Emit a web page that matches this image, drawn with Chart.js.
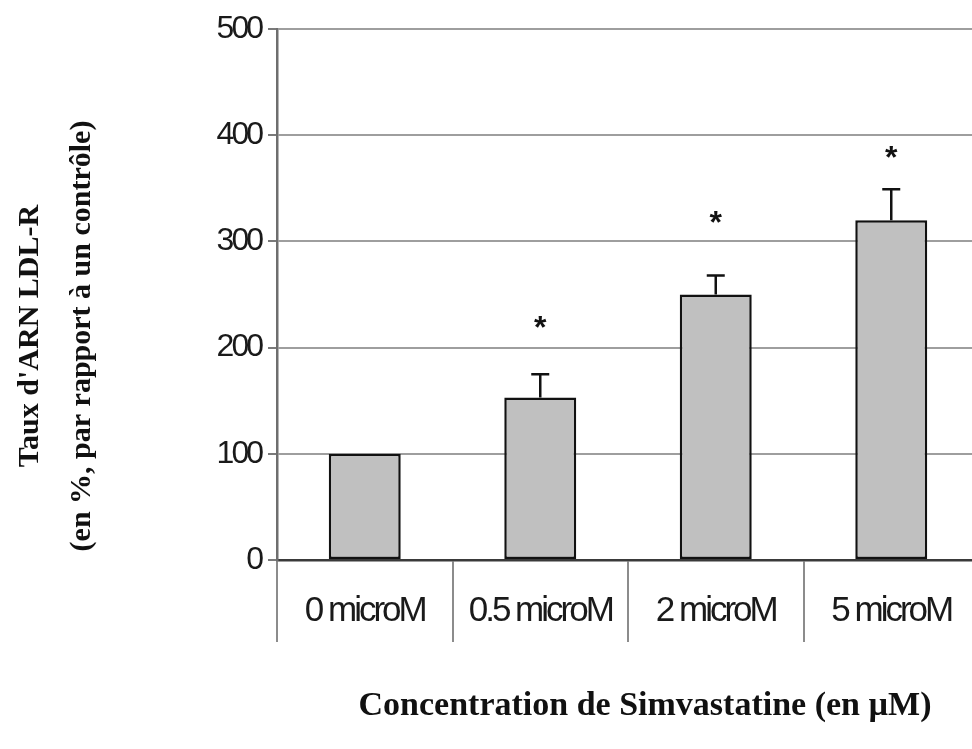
<!DOCTYPE html>
<html>
<head>
<meta charset="utf-8">
<script src="https://cdn.jsdelivr.net/npm/chart.js@4.4.1/dist/chart.umd.min.js"></script>
<style>
  html, body { margin: 0; padding: 0; background: #fff; overflow: hidden; }
  #wrap { position: relative; width: 980px; height: 749px; }
</style>
</head>
<body>
<div id="wrap"><canvas id="myChart"></canvas></div>
<script>
// taux d'ARN du LDL-R selon la dose de simvastatine
var categories = ['0 microM', '0.5 microM', '2 microM', '5 microM'];
var valeurs = [100, 153, 250, 320];
var erreurs = [0, 22, 18, 29];
var etoiles = ['', '*', '*', '*'];
var niveauEtoiles = [null, 226, 325, 386];
var graduations = [0, 100, 200, 300, 400, 500];

var titreY = ["Taux d'ARN LDL-R", "(en %, par rapport à un contrôle)"];
var titreX = 'Concentration de Simvastatine (en µM)';

var policeAxe = "'Liberation Sans', Arial, sans-serif";
var policeTitre = "'Liberation Serif', 'Times New Roman', serif";

// texte des graduations un peu resserré
var serrePlugin = {
  id: 'serre',
  beforeDraw: function (chart) {
    chart.ctx.letterSpacing = '-3px';
  }
};

// barres d'erreur (vers le haut seulement) + étoiles de significativité
var erreursPlugin = {
  id: 'erreurs',
  afterDatasetsDraw: function (chart) {
    var ctx = chart.ctx;
    var x = chart.scales.x;
    var y = chart.scales.y;
    ctx.save();
    ctx.letterSpacing = '0px';
    ctx.strokeStyle = '#111';
    ctx.lineWidth = 2.5;
    for (var i = 0; i < valeurs.length; i++) {
      var cx = x.getPixelForValue(i);
      if (erreurs[i] > 0) {
        var y0 = y.getPixelForValue(valeurs[i]);
        var y1 = y.getPixelForValue(valeurs[i] + erreurs[i]);
        ctx.beginPath();
        ctx.moveTo(cx, y0);
        ctx.lineTo(cx, y1);
        ctx.moveTo(cx - 9, y1);
        ctx.lineTo(cx + 9, y1);
        ctx.stroke();
      }
      if (etoiles[i]) {
        ctx.fillStyle = '#111';
        ctx.font = "bold 32px 'Liberation Sans', Arial, sans-serif";
        ctx.textAlign = 'center';
        ctx.textBaseline = 'alphabetic';
        ctx.fillText(etoiles[i], cx, y.getPixelForValue(niveauEtoiles[i]) + 18);
      }
    }
    ctx.restore();
  }
};

// titres des axes
var titresPlugin = {
  id: 'titres',
  afterDraw: function (chart) {
    var ctx = chart.ctx;
    ctx.save();
    ctx.letterSpacing = '0px';
    ctx.fillStyle = '#111';
    ctx.font = 'bold 30px ' + policeTitre;
    ctx.textAlign = 'center';
    ctx.textBaseline = 'middle';
    ctx.translate(0, 336);
    ctx.rotate(-Math.PI / 2);
    ctx.fillText(titreY[0], 0, 30);
    ctx.fillText(titreY[1], 0, 82);
    ctx.restore();

    ctx.save();
    ctx.letterSpacing = '0px';
    ctx.fillStyle = '#111';
    ctx.font = 'bold 34px ' + policeTitre;
    ctx.textAlign = 'center';
    ctx.textBaseline = 'middle';
    ctx.fillText(titreX, 645, 706);
    ctx.restore();
  }
};

var config = {
  type: 'bar',
  data: {
    labels: categories,
    datasets: [{
      data: valeurs,
      backgroundColor: '#c0c0c0',
      borderColor: '#111',
      borderWidth: 2.5,
      borderSkipped: false,
      categoryPercentage: 1,
      barPercentage: 0.41
    }]
  },
  options: {
    animation: false,
    responsive: true,
    maintainAspectRatio: false,
    layout: { padding: { top: 29, right: 1, left: 0, bottom: 0 } },
    plugins: {
      legend: { display: false },
      tooltip: { enabled: false }
    },
    scales: {
      x: {
        offset: true,
        afterFit: function (scale) { scale.height = 189; },
        grid: {
          offset: true,
          drawOnChartArea: false,
          tickLength: 82,
          color: '#8c8c8c',
          lineWidth: 2
        },
        border: { display: true, color: '#3a3a3a', width: 2.5 },
        ticks: {
          autoSkip: false,
          maxRotation: 0,
          minRotation: 0,
          padding: -52,
          color: '#1a1a1a',
          font: { family: policeAxe, size: 35 }
        }
      },
      y: {
        min: 0,
        max: 500,
        afterFit: function (scale) { scale.width = 277; },
        afterBuildTicks: function (scale) {
          scale.ticks = graduations.map(function (v) { return { value: v }; });
        },
        grid: {
          color: '#9e9e9e',
          lineWidth: 2,
          tickLength: 9,
          tickColor: '#7a7a7a'
        },
        border: { display: true, color: '#6e6e6e', width: 2.5 },
        ticks: {
          padding: 7,
          color: '#1a1a1a',
          font: { family: policeAxe, size: 32 }
        }
      }
    }
  },
  plugins: [serrePlugin, erreursPlugin, titresPlugin]
};

var ctx = myChart.getContext('2d');
window.myChart = new Chart(document.getElementById('myChart'), config);
</script>
</body>
</html>
